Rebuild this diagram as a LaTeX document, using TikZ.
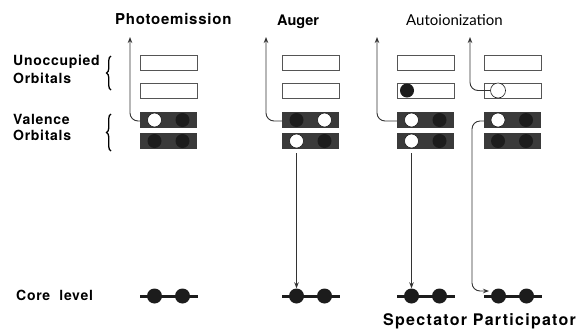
\documentclass[tikz,border=0pt]{standalone}
\usepackage{fontspec}
\usetikzlibrary{arrows.meta,decorations.pathreplacing}
\newfontfamily\headfont[LetterSpace=5]{TeX Gyre Heros}
\newfontfamily\wideheadfont[LetterSpace=8]{TeX Gyre Heros}
\newfontfamily\plainhead{Lato}
\definecolor{valfill}{HTML}{3A3A3A}
\definecolor{dotfill}{HTML}{1C1C1C}
\definecolor{rimcol}{HTML}{555555}
\definecolor{wirecol}{HTML}{333333}
\tikzset{
  emptybox/.style={draw=rimcol,line width=1pt,fill=white},
  fullbox/.style={fill=valfill},
  electron/.style={circle,fill=dotfill,inner sep=0pt,minimum size=14pt},
  hole/.style={circle,draw=dotfill,line width=0.6pt,fill=white,inner sep=0pt,minimum size=14pt},
  coredot/.style={circle,fill=dotfill,inner sep=0pt,minimum size=15pt},
  coreline/.style={line width=3pt,draw=dotfill},
  wire/.style={draw=wirecol,line width=0.9pt,rounded corners=8pt},
  tip/.style={-{Stealth[length=6pt,width=4.5pt]}},
  curly/.style={line width=1.3pt,decorate,decoration={brace,amplitude=4.5pt}},
  title/.style={font=\headfont\bfseries\fontsize{15}{18}\selectfont,anchor=base west,inner sep=0pt},
  sidelabel/.style={font=\headfont\bfseries\fontsize{14}{17}\selectfont,anchor=base west,inner sep=0pt}
}
\begin{document}
\begin{tikzpicture}[x=1pt,y=-1pt]
\useasboundingbox (0,0) rectangle (577,333);

% ---- titles ----
\node[title] (tphoto) at (115,24) {Photoemission};
\node[title,font=\fontspec{TeX Gyre Heros}\bfseries\fontsize{14.5}{17}\selectfont] (taug) at (277,25) {Auger};
\node[anchor=base west,inner sep=0pt,font=\plainhead\fontsize{15}{18}\selectfont] (tauto) at (406,25) {Autoionization};
\node[anchor=base west,inner sep=0pt,font=\wideheadfont\bfseries\fontsize{16}{19}\selectfont] (tspec) at (383,325) {Spectator Participator};

% ---- left labels ----
\node[sidelabel] (lunocc) at (13,65) {Unoccupied};
\node[sidelabel] (lorb1) at (13,83) {Orbitals};
\node[sidelabel] (lval) at (13,124) {Valence};
\node[sidelabel] (lorb2) at (13,140) {Orbitals};
\node[sidelabel] (lcore) at (16,300) {Core\ \ level};

\coordinate (braceAbot) at (111,90);
\coordinate (braceAtop) at (111,56);
\coordinate (braceBbot) at (111,151);
\coordinate (braceBtop) at (111,114);
\draw[curly] (braceAbot) -- (braceAtop);
\draw[curly] (braceBbot) -- (braceBtop);

% ---- orbital stacks: columns at left edges 140, 282, 397, 484 ----
\foreach \c/\x in {p/140,a/282,s/397,q/484}{
  \draw[emptybox] (\x,55) rectangle ++(57,15) coordinate (\c u1);
  \draw[emptybox] (\x,83) rectangle ++(57,15) coordinate (\c u2);
  \fill[fullbox] (\x,112) rectangle ++(57,16) coordinate (\c v1);
  \fill[fullbox] (\x,133) rectangle ++(57,16) coordinate (\c v2);
  \coordinate (\c L1) at (\x,121);
  \coordinate (\c L2) at (\x,90.5);
  \draw[coreline] (\x,296) -- ++(58,0) coordinate (\c cr);
  \node[coredot] (\c c1) at (\x+14.5,296) {};
  \node[coredot] (\c c2) at (\x+42.5,296) {};
}

% photoemission
\node[hole] (pe1) at (154.5,120) {};
\node[electron] (pe2) at (182.5,120) {};
\node[electron] (pe3) at (154.5,141) {};
\node[electron] (pe4) at (182.5,141) {};
% Auger
\node[electron] (ae1) at (296.5,120) {};
\node[hole] (ae2) at (324.5,120) {};
\node[hole] (ae3) at (296.5,141) {};
\node[electron] (ae4) at (324.5,141) {};
% spectator
\node[electron] (se0) at (407,90.5) {};
\node[hole] (se1) at (411.5,120) {};
\node[electron] (se2) at (439.5,120) {};
\node[hole] (se3) at (411.5,141) {};
\node[electron] (se4) at (439.5,141) {};
% participator
\node[hole,minimum size=15pt] (qe0) at (498,90.5) {};
\node[hole] (qe1) at (498,120) {};
\node[electron] (qe2) at (526,120) {};
\node[electron] (qe3) at (498,141) {};
\node[electron] (qe4) at (526,141) {};

% ---- emitted electrons ----
\coordinate (pout) at (130,37);
\coordinate (aout) at (266,37);
\coordinate (sout) at (377,37);
\coordinate (qout) at (470,37);
\draw[wire,tip] (pL1) -| (pout);
\draw[wire,tip] (aL1) -| (aout);
\draw[wire,tip] (sL1) -| (sout);
\draw[wire,tip] (qe0.west) -| (qout);

% ---- core-hole filling ----
\coordinate (astart) at (296.5,153);
\coordinate (sstart) at (411.5,153);
\draw[wire,tip] (astart) -- (ac1.north);
\draw[wire,tip] (sstart) -- (sc1.north);
\coordinate (qbend) at (472,291);
\coordinate (qend) at (489,291);
\draw[wire,tip] (qL1) -| (qbend) -- (qend);
\end{tikzpicture}
\end{document}
